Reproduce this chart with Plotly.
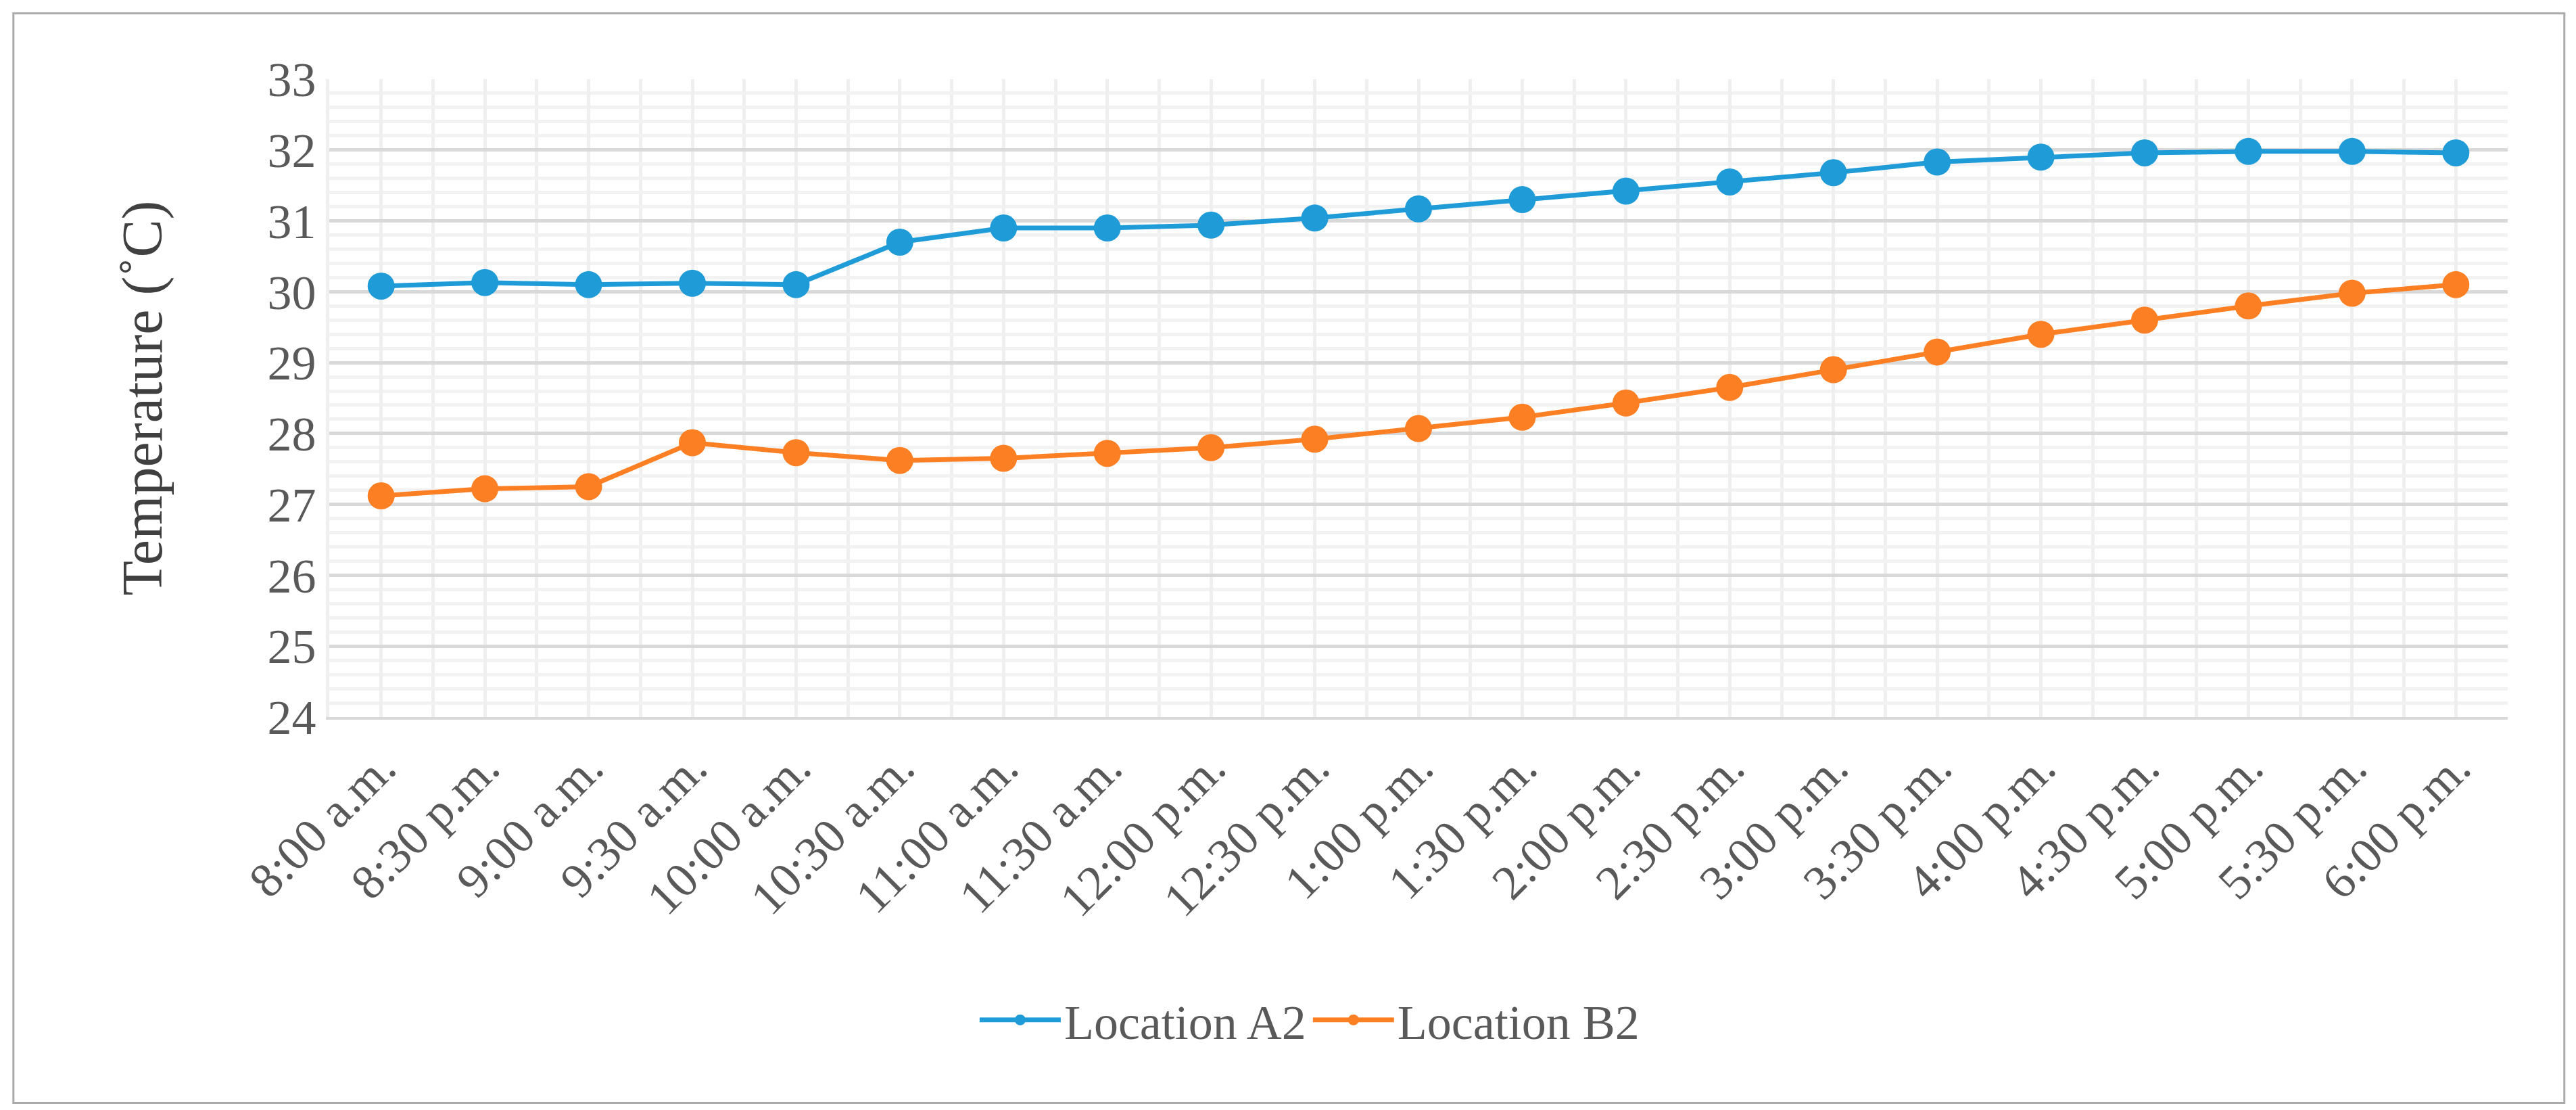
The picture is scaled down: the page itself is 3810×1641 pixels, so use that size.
import plotly.graph_objects as go

labels = ["8:00 a.m.","8:30 p.m.","9:00 a.m.","9:30 a.m.","10:00 a.m.","10:30 a.m.","11:00 a.m.","11:30 a.m.",
          "12:00 p.m.","12:30 p.m.","1:00 p.m.","1:30 p.m.","2:00 p.m.","2:30 p.m.","3:00 p.m.","3:30 p.m.",
          "4:00 p.m.","4:30 p.m.","5:00 p.m.","5:30 p.m.","6:00 p.m."]
a2 = [30.08,30.13,30.10,30.12,30.10,30.70,30.90,30.90,30.94,31.04,31.17,31.30,31.42,31.55,31.68,31.83,31.90,31.96,31.98,31.98,31.96]
b2 = [27.12,27.22,27.25,27.87,27.73,27.62,27.65,27.72,27.80,27.92,28.07,28.23,28.43,28.65,28.90,29.15,29.40,29.60,29.80,29.98,30.10]
x = list(range(len(labels)))

fig = go.Figure()
fig.add_trace(go.Scatter(x=x, y=a2, name="Location A2", mode="lines+markers",
                         line=dict(color="#1f9bd7", width=7), marker=dict(size=40, color="#1f9bd7")))
fig.add_trace(go.Scatter(x=x, y=b2, name="Location B2", mode="lines+markers",
                         line=dict(color="#fd7f23", width=7), marker=dict(size=40, color="#fd7f23")))

font = dict(family="Liberation Serif", color="#595959", size=72)
fig.update_layout(
    width=3810, height=1641, paper_bgcolor="white", plot_bgcolor="white",
    font=font,
    margin=dict(l=479, r=3810-3701, t=109, b=1641-1052, autoexpand=False),
    showlegend=True,
    legend=dict(orientation="h", x=0.45, y=-0.475, xanchor="center", yanchor="middle",
                font=dict(size=72, color="#595959"), itemwidth=120),
    xaxis=dict(range=[-0.5, 20.5], tickmode="array", tickvals=x, ticktext=labels, tickangle=-45,
               automargin=False,
               showgrid=True, gridcolor="#efefef", gridwidth=5, zeroline=False,
               showline=True, linecolor="#d9d9d9", linewidth=4, ticks="",
               minor=dict(dtick=0.5, tick0=-0.5, showgrid=True, gridcolor="#efefef", gridwidth=5)),
    yaxis=dict(range=[24, 33], dtick=1, showgrid=True, gridcolor="#d9d9d9", gridwidth=5, zeroline=False,
               automargin=False,
               title=dict(text="Temperature (˚C)", font=dict(size=84, color="#404040"), standoff=130),
               ticks="", showline=True, linecolor="#efefef", linewidth=5,
               minor=dict(dtick=0.2, showgrid=True, gridcolor="#f2f2f2", gridwidth=5)),
    shapes=[dict(type="rect", xref="paper", yref="paper", x0=-0.145, x1=1.026, y0=-0.605, y1=1.103,
                 line=dict(color="#aaaaaa", width=3))],
)
fig.write_html("out.html")
